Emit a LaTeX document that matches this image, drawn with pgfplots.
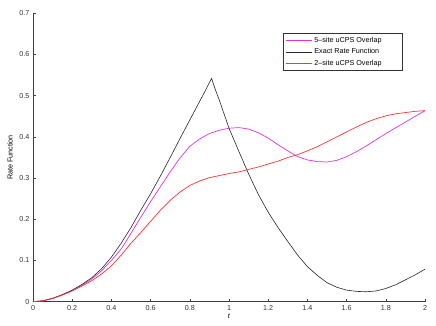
\documentclass[border=0pt]{standalone}
\usepackage{pgfplots}
\pgfplotsset{compat=1.18}
\usepackage{fontspec}
\setmainfont{Liberation Sans}
\definecolor{mmag}{rgb}{0.88,0.2,0.88}
\definecolor{mred}{rgb}{1,0.2,0.2}
\definecolor{mblk}{rgb}{0.15,0.15,0.15}
\begin{document}
\begin{tikzpicture}
\begin{axis}[
  scale only axis, width=392pt, height=288.4pt,
  xmin=0, xmax=2, ymin=0, ymax=0.7,
  axis x line*=bottom, axis y line*=left,
  axis line style={-, color=black!75, line width=0.6pt},
  tick align=inside, major tick length=3pt,
  tick style={color=black!75, line width=0.6pt},
  xtick={0,0.2,...,2.01}, ytick={0,0.1,...,0.71},
  /pgf/number format/assume math mode=true,
  tick label style={font=\fontsize{7.2}{8.5}\selectfont, color=black!80},
  xticklabels={0,0.2,0.4,0.6,0.8,1,1.2,1.4,1.6,1.8,2},
  yticklabels={0,0.1,0.2,0.3,0.4,0.5,0.6,0.7},
  xlabel={\textit{t}}, ylabel={Rate Function},
  label style={font=\fontsize{7.2}{8.5}\selectfont},
  xlabel style={yshift=3pt},
  ylabel style={yshift=0pt},
  clip=false,
  legend style={at={(rel axis cs:0.943,0.931)}, anchor=north east,
    font=\fontsize{7.2}{8.5}\selectfont, draw=black!80, line width=0.6pt,
    inner xsep=2pt, inner ysep=1.5pt, row sep=1pt},
  legend cell align=left,
  legend image code/.code={\draw[#1, line width=1pt] (0cm,0cm) -- (0.92cm,0cm);},
]
\addplot[color=mmag, line width=0.7pt] coordinates {
(0,0) (0.05,0.002) (0.1,0.008) (0.15,0.017) (0.2,0.027) (0.25,0.04) (0.3,0.055) (0.35,0.075) (0.4,0.10) (0.45,0.128) (0.5,0.166) (0.55,0.205) (0.6,0.243) (0.65,0.279) (0.7,0.315) (0.75,0.349) (0.8,0.377) (0.85,0.395) (0.9,0.408) (0.95,0.416) (1.0,0.421) (1.05,0.4225) (1.1,0.419) (1.15,0.41) (1.2,0.397) (1.25,0.381) (1.3,0.366) (1.35,0.352) (1.4,0.344) (1.45,0.340) (1.5,0.339) (1.55,0.343) (1.6,0.352) (1.65,0.364) (1.7,0.378) (1.75,0.393) (1.8,0.408) (1.85,0.422) (1.9,0.436) (1.95,0.45) (2.0,0.4636)
};
\addlegendentry{\makebox[84pt][l]{5--site uCPS Overlap}}
\addplot[color=mblk, line width=0.6pt] coordinates {
(0,0) (0.05,0.002) (0.1,0.008) (0.15,0.017) (0.2,0.028) (0.25,0.042) (0.3,0.058) (0.35,0.080) (0.4,0.108) (0.45,0.142) (0.5,0.180) (0.55,0.222) (0.6,0.262) (0.65,0.305) (0.7,0.35) (0.75,0.396) (0.8,0.441) (0.85,0.486) (0.88,0.513) (0.9,0.532) (0.911,0.542) (0.93,0.515) (0.95,0.49) (1.0,0.421) (1.05,0.365) (1.1,0.31) (1.15,0.26) (1.2,0.217) (1.25,0.18) (1.3,0.146) (1.35,0.113) (1.4,0.085) (1.45,0.064) (1.5,0.046) (1.55,0.035) (1.6,0.028) (1.65,0.025) (1.7,0.024) (1.75,0.026) (1.8,0.032) (1.85,0.041) (1.9,0.053) (1.95,0.065) (2.0,0.079)
};
\addlegendentry{\makebox[84pt][l]{Exact Rate Function}}
\addplot[color=mred, line width=0.7pt] coordinates {
(0,0) (0.05,0.002) (0.1,0.008) (0.15,0.016) (0.2,0.026) (0.25,0.038) (0.3,0.051) (0.35,0.067) (0.4,0.087) (0.45,0.113) (0.5,0.142) (0.55,0.168) (0.6,0.195) (0.65,0.222) (0.7,0.246) (0.75,0.266) (0.8,0.282) (0.85,0.293) (0.9,0.301) (0.95,0.306) (1.0,0.311) (1.05,0.315) (1.1,0.321) (1.15,0.327) (1.2,0.334) (1.25,0.341) (1.3,0.35) (1.35,0.357) (1.4,0.366) (1.45,0.376) (1.5,0.388) (1.55,0.40) (1.6,0.412) (1.65,0.424) (1.7,0.435) (1.75,0.444) (1.8,0.451) (1.85,0.456) (1.9,0.459) (1.95,0.462) (2.0,0.4636)
};
\addlegendentry{\makebox[84pt][l]{2--site uCPS Overlap}}
\path[draw=none] (rel axis cs:-0.0842,-0.0843) rectangle (rel axis cs:1.028,1.046);
\end{axis}
\end{tikzpicture}
\end{document}
